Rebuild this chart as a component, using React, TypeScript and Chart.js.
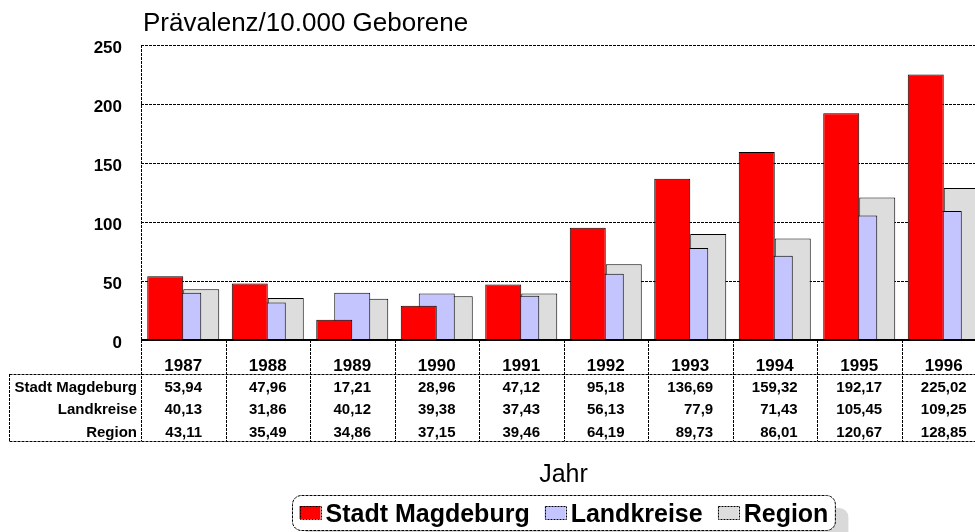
import React, { useEffect, useRef } from "react";
import { Chart, registerables } from "chart.js";

Chart.register(...registerables);

const years = ["1987", "1988", "1989", "1990", "1991", "1992", "1993", "1994", "1995", "1996"];
const seriesNames = ["Stadt Magdeburg", "Landkreise", "Region"];
const stadtMagdeburg = [53.94, 47.96, 17.21, 28.96, 47.12, 95.18, 136.69, 159.32, 192.17, 225.02];
const landkreise = [40.13, 31.86, 40.12, 39.38, 37.43, 56.13, 77.9, 71.43, 105.45, 109.25];
const region = [43.11, 35.49, 34.86, 37.15, 39.46, 64.19, 89.73, 86.01, 120.67, 128.85];
const seriesColors = ["#FF0000", "#C4C4FF", "#DDDDDD"];
const yMin = 0;
const yMax = 250;
const yStep = 50;
const yTitle = "Prävalenz/10.000 Geborene";
const xTitle = "Jahr";

const FONT = "'Liberation Sans', Arial, Helvetica, sans-serif";
const fmt = (v: number) => String(v).replace(".", ",");

function hLine(ctx: CanvasRenderingContext2D, x1: number, x2: number, y: number) {
  ctx.beginPath();
  ctx.moveTo(x1, y);
  ctx.lineTo(x2, y);
  ctx.stroke();
}
function vLine(ctx: CanvasRenderingContext2D, x: number, y1: number, y2: number) {
  ctx.beginPath();
  ctx.moveTo(x, y1);
  ctx.lineTo(x, y2);
  ctx.stroke();
}
function roundRect(ctx: CanvasRenderingContext2D, x: number, y: number, w: number, h: number, r: number) {
  ctx.beginPath();
  ctx.moveTo(x + r, y);
  ctx.lineTo(x + w - r, y);
  ctx.arcTo(x + w, y, x + w, y + r, r);
  ctx.lineTo(x + w, y + h - r);
  ctx.arcTo(x + w, y + h, x + w - r, y + h, r);
  ctx.lineTo(x + r, y + h);
  ctx.arcTo(x, y + h, x, y + h - r, r);
  ctx.lineTo(x, y + r);
  ctx.arcTo(x, y, x + r, y, r);
  ctx.closePath();
}

const decorPlugin = {
  id: "decor",
  beforeDatasetsDraw(chart: any) {
    const { ctx, chartArea: a, scales } = chart;
    const y = scales.y;
    ctx.save();
    ctx.strokeStyle = "#000";
    ctx.lineWidth = 1;
    ctx.setLineDash([3, 1]);
    for (const t of y.ticks) {
      if (t.value === yMin) continue;
      const py = Math.round(y.getPixelForValue(t.value)) + 0.5;
      hLine(ctx, a.left, a.right, py);
    }
    vLine(ctx, Math.round(a.left) + 0.5, a.top, a.bottom);
    vLine(ctx, Math.round(a.right) - 0.5, a.top, a.bottom);
    ctx.restore();
  },
  afterDatasetsDraw(chart: any) {
    const { ctx, chartArea: a, scales } = chart;
    const x = scales.x;
    const y = scales.y;
    const n = years.length;
    const cw = x.getPixelForValue(1) - x.getPixelForValue(0);
    ctx.save();

    // zero axis line
    ctx.strokeStyle = "#000";
    ctx.lineWidth = 2;
    ctx.setLineDash([]);
    const py0 = Math.round(y.getPixelForValue(yMin));
    hLine(ctx, a.left, a.right, py0);

    // data table
    const tableTop = py0;
    const yearRowBottom = tableTop + 34;
    const rowH = 22.4;
    const tableBottom = yearRowBottom + rowH * 3;
    const tableLeft = 9.5;
    ctx.lineWidth = 1;
    ctx.setLineDash([3, 1]);
    for (let i = 0; i <= n; i++) {
      const bx = Math.round(x.getPixelForValue(i) - cw / 2) + 0.5;
      vLine(ctx, bx, tableTop, tableBottom);
    }
    hLine(ctx, tableLeft, a.right, Math.round(yearRowBottom) + 0.5);
    hLine(ctx, tableLeft, a.right, Math.round(tableBottom) + 0.5);
    vLine(ctx, tableLeft, yearRowBottom, tableBottom);

    ctx.fillStyle = "#000";
    ctx.textBaseline = "alphabetic";
    ctx.font = `bold 17px ${FONT}`;
    ctx.textAlign = "center";
    years.forEach((yr, i) => {
      ctx.fillText(yr, x.getPixelForValue(i), tableTop + 31);
    });

    const rows = [stadtMagdeburg, landkreise, region];
    ctx.font = `bold 15px ${FONT}`;
    ctx.textAlign = "right";
    seriesNames.forEach((name, r) => {
      ctx.fillText(name, a.left - 4, yearRowBottom + 18 + r * rowH);
    });
    for (let i = 0; i < n; i++) {
      const texts = rows.map((row) => fmt(row[i]));
      const maxW = Math.max(...texts.map((t) => ctx.measureText(t).width));
      const rx = x.getPixelForValue(i) + maxW / 2;
      texts.forEach((t, r) => {
        ctx.fillText(t, rx, yearRowBottom + 18 + r * rowH);
      });
    }

    // titles
    const cx = (a.left + a.right) / 2;
    ctx.font = `26px ${FONT}`;
    ctx.textAlign = "left";
    ctx.fillText(yTitle, a.left + 2, 31);
    ctx.font = `25px ${FONT}`;
    ctx.textAlign = "center";
    ctx.fillText(xTitle, cx, 482);

    // legend
    const boxTop = 495;
    const boxH = 35;
    const sw = 21;
    const swGap = 5;
    const itemGap = 15;
    const pad = 7;
    ctx.font = `bold 25px ${FONT}`;
    const widths = seriesNames.map((s) => ctx.measureText(s).width);
    const total = widths.reduce((s, w) => s + w + sw + swGap, 0) + itemGap * (seriesNames.length - 1);
    const boxW = total + pad * 2;
    const boxLeft = Math.round(cx - boxW / 2) + 0.5;
    ctx.setLineDash([]);
    ctx.fillStyle = "#D9D9D9";
    roundRect(ctx, boxLeft + 13, boxTop + 13, boxW, boxH, 9);
    ctx.fill();
    ctx.fillStyle = "#FFFFFF";
    roundRect(ctx, boxLeft, boxTop + 0.5, boxW, boxH, 9);
    ctx.fill();
    ctx.strokeStyle = "#000";
    ctx.setLineDash([3, 1]);
    ctx.stroke();

    let lx = boxLeft + pad;
    ctx.textAlign = "left";
    seriesNames.forEach((s, i) => {
      ctx.fillStyle = seriesColors[i];
      ctx.fillRect(lx, 506, sw, 13);
      ctx.strokeStyle = "#000";
      ctx.setLineDash([2, 1]);
      ctx.strokeRect(Math.round(lx) + 0.5, 506.5, sw, 13);
      lx += sw + swGap;
      ctx.fillStyle = "#000";
      ctx.fillText(s, lx, 522);
      lx += widths[i] + itemGap;
    });

    ctx.restore();
  },
};

export default function App() {
  const canvasRef = useRef<HTMLCanvasElement | null>(null);

  useEffect(() => {
    const canvas = canvasRef.current;
    if (!canvas) return;
    const seriesData = [stadtMagdeburg, landkreise, region];
    const chart = new Chart(canvas, {
      type: "bar",
      data: {
        labels: years,
        datasets: seriesNames.map((name, i) => ({
          label: name,
          data: seriesData[i],
          backgroundColor: seriesColors[i],
          borderColor: "#000",
          borderWidth: 1,
          barPercentage: 2,
          categoryPercentage: 0.639,
        })),
      },
      options: {
        responsive: false,
        maintainAspectRatio: false,
        animation: false,
        events: [],
        layout: { padding: { left: 0, top: 45, right: 14, bottom: 192 } },
        plugins: {
          legend: { display: false },
          tooltip: { enabled: false },
          title: { display: false },
        },
        scales: {
          x: {
            type: "category",
            display: false,
          },
          y: {
            min: yMin,
            max: yMax,
            ticks: {
              stepSize: yStep,
              color: "#000",
              padding: 19,
              labelOffset: 3,
              font: { family: FONT, size: 17, weight: "bold" },
            },
            grid: { display: false, drawTicks: false },
            border: { display: false },
            afterFit: (scale: any) => {
              scale.width = 141;
            },
          },
        },
      },
      plugins: [decorPlugin],
    } as any);
    return () => chart.destroy();
  }, []);

  return (
    <div
      style={{
        position: "fixed",
        left: 0,
        top: 0,
        width: 975,
        height: 532,
        overflow: "hidden",
        background: "#fff",
      }}
    >
      <canvas ref={canvasRef} width={1000} height={532} style={{ display: "block" }} />
    </div>
  );
}
